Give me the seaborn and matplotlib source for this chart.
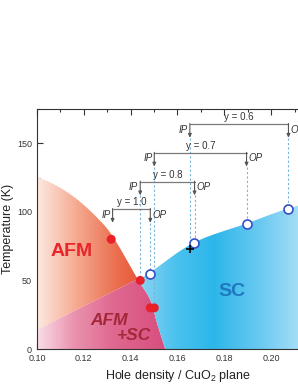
import numpy as np
import matplotlib
matplotlib.use("Agg")
import matplotlib.pyplot as plt
import seaborn as sns
import pandas as pd
from matplotlib.patches import Polygon
from matplotlib.colors import LinearSegmentedColormap

# measured points
afm_x = [0.1317, 0.1441, 0.1484, 0.1501]
afm_T = [80, 50, 30, 30]
sc_x = [0.1481, 0.1670, 0.1895, 0.2074]
sc_T = [55, 77, 91, 102]
plus_x = [0.1653]
plus_T = [73]

# IP / OP brackets
doping = ["y = 1.0", "y = 0.8", "y = 0.7", "y = 0.6"]
ip_x = [0.1323, 0.1441, 0.1501, 0.1653]
op_x = [0.1484, 0.1673, 0.1895, 0.2074]
bracket_T = [102, 122, 143, 164]
ip_end = [None, 50, 30, 73]
op_end = [55, 77, 91, 102]

# phase boundaries
afm_edge_x = [0.100, 0.108, 0.1167, 0.1253, 0.1324, 0.1430, 0.1484, 0.1513, 0.1548]
afm_edge_T = [125.5, 119.4, 109.7, 96.4, 82, 51, 35.7, 18.7, 0]
sc_edge_x = [0.1430, 0.1481, 0.1670, 0.1895, 0.2074, 0.2250]
sc_edge_T = [51, 55.5, 77.5, 91.5, 102.5, 110]
mix_edge_x = [0.100, 0.1430]
mix_edge_T = [14, 51]


def catmull(xs, ys, n=20):
    p = np.column_stack([xs, ys])
    p = np.vstack([2 * p[0] - p[1], p, 2 * p[-1] - p[-2]])
    out = []
    for i in range(1, len(p) - 2):
        p0, p1, p2, p3 = p[i - 1], p[i], p[i + 1], p[i + 2]
        for t in np.linspace(0, 1, n, endpoint=False):
            out.append(0.5 * ((2 * p1) + (-p0 + p2) * t
                              + (2 * p0 - 5 * p1 + 4 * p2 - p3) * t ** 2
                              + (-p0 + 3 * p1 - 3 * p2 + p3) * t ** 3))
    out.append(p[-2])
    return np.array(out)


sns.set_style("ticks")
plt.rcParams["font.family"] = ["Liberation Sans", "DejaVu Sans"]
plt.rcParams["mathtext.fontset"] = "custom"
plt.rcParams["mathtext.rm"] = "Liberation Sans"

fig = plt.figure(figsize=(2.98, 3.85), dpi=100)
ax = fig.add_axes([0.124, 0.0935, 0.943, 0.6234])
ax.set_xlim(0.10, 0.22)
ax.set_ylim(0, 175)

afm_line = catmull(afm_edge_x, afm_edge_T)
split = 5 * 20
upper = afm_line[:split + 1]
lower = afm_line[split:]
sc_line = catmull(sc_edge_x, sc_edge_T)

orange_poly = np.vstack([[mix_edge_x[0], mix_edge_T[0]], upper])
pink_poly = np.vstack([[0.10, 0], [mix_edge_x[0], mix_edge_T[0]], lower, [0.1548, 0]])
blue_poly = np.vstack([sc_line, [0.24, 110], [0.24, 0], lower[::-1]])

grad = np.linspace(0, 1, 400).reshape(1, -1)
ext = (0.10, 0.23, 0, 175)


def fill(poly, colors):
    cmap = LinearSegmentedColormap.from_list("g", colors)
    im = ax.imshow(grad, extent=ext, cmap=cmap, aspect="auto", origin="lower",
                   interpolation="bilinear", zorder=1)
    patch = Polygon(poly, closed=True, transform=ax.transData)
    im.set_clip_path(patch)


# positions in the gradient correspond to x from 0.10 to 0.23
fill(orange_poly, [(0, "#fde8e0"), (0.12, "#f6ad94"), (0.25, "#ec7253"),
                   (0.33, "#e8583a"), (1, "#e8583a")])
fill(pink_poly, [(0, "#f9dce6"), (0.12, "#ea92ae"), (0.25, "#df6890"),
                 (0.42, "#d84e7e"), (1, "#d84e7e")])
fill(blue_poly, [(0, "#9ad8f3"), (0.33, "#8fd4f2"), (0.45, "#4cc2ee"),
                 (0.58, "#2cb6ea"), (0.75, "#72ccf1"), (0.9, "#b8e4f8"),
                 (1, "#c8eafa")])

# dotted guide lines
for i in range(len(doping)):
    top = bracket_T[i] - 10
    if ip_end[i] is not None:
        ax.plot([ip_x[i], ip_x[i]], [top, ip_end[i]], ls=(0, (2, 2)),
                color="#7ab4da", lw=0.8, zorder=2)
    ax.plot([op_x[i], op_x[i]], [top, op_end[i]], ls=(0, (2, 2)),
            color="#7ab4da", lw=0.8, zorder=2)

# brackets
for i in range(len(doping)):
    yb = bracket_T[i]
    ax.plot([ip_x[i], op_x[i]], [yb, yb], color="#7a7a7a", lw=0.9, zorder=3)
    for xe in (ip_x[i], op_x[i]):
        ax.annotate("", xy=(xe, yb - 10), xytext=(xe, yb + 0.4),
                    arrowprops=dict(arrowstyle="-|>,head_length=0.22,head_width=0.1",
                                    color="#555555", lw=0.8, shrinkA=0, shrinkB=0),
                    zorder=3)
    ax.text((ip_x[i] + op_x[i]) / 2, yb + 1.5, doping[i], ha="center", va="bottom",
            fontsize=7, color="#333333")
    ax.text(ip_x[i] - 0.0008, yb - 4, "IP", ha="right", va="center",
            fontsize=7, style="italic", color="#333333")
    ax.text(op_x[i] + 0.0008, yb - 4, "OP", ha="left", va="center",
            fontsize=7, style="italic", color="#333333")

# data points
red = pd.DataFrame({"x": afm_x, "T": afm_T})
blue = pd.DataFrame({"x": sc_x, "T": sc_T})
sns.scatterplot(data=red, x="x", y="T", ax=ax, s=42, color="#e8202a",
                edgecolor="none", zorder=5)
sns.scatterplot(data=blue, x="x", y="T", ax=ax, s=42, facecolor="white",
                edgecolor="#3350c8", linewidth=1.2, zorder=5)
ax.plot(plus_x, plus_T, "+", color="black", ms=6, mew=1.2, zorder=5)

# phase labels
ax.text(0.1146, 71, "AFM", color="#e8242c", fontsize=14, fontweight="bold",
        ha="center", va="center", zorder=4)
ax.text(0.1310, 21, "AFM", color="#a3283a", fontsize=12.5, fontweight="bold",
        style="italic", ha="center", va="center", zorder=4)
ax.text(0.1416, 10, "+SC", color="#a3283a", fontsize=12.5, fontweight="bold",
        style="italic", ha="center", va="center", zorder=4)
ax.text(0.1834, 42, "SC", color="#1f78c0", fontsize=14, fontweight="bold",
        ha="center", va="center", zorder=4)

ax.set_xticks(np.arange(0.10, 0.201, 0.02))
ax.set_xticks(np.arange(0.10, 0.221, 0.01), minor=True)
ax.set_yticks([0, 50, 100, 150])
ax.set_yticks([25, 75, 125, 175], minor=True)
ax.xaxis.set_major_formatter(matplotlib.ticker.FormatStrFormatter("%.2f"))
ax.tick_params(which="both", direction="in", top=True, right=True,
               labelsize=6.5, colors="#333333", width=0.8)
ax.tick_params(which="major", length=4)
ax.tick_params(which="minor", length=2)
for s in ax.spines.values():
    s.set_linewidth(0.8)
    s.set_color("#333333")

ax.set_xlabel("Hole density / CuO$_2$ plane", fontsize=9, color="#222222", labelpad=4)
ax.set_ylabel("Temperature (K)", fontsize=9, color="#222222", labelpad=2)
ax.set_xlim(0.10, 0.22)
ax.set_ylim(0, 175)

fig.savefig("out.png", dpi=100)
